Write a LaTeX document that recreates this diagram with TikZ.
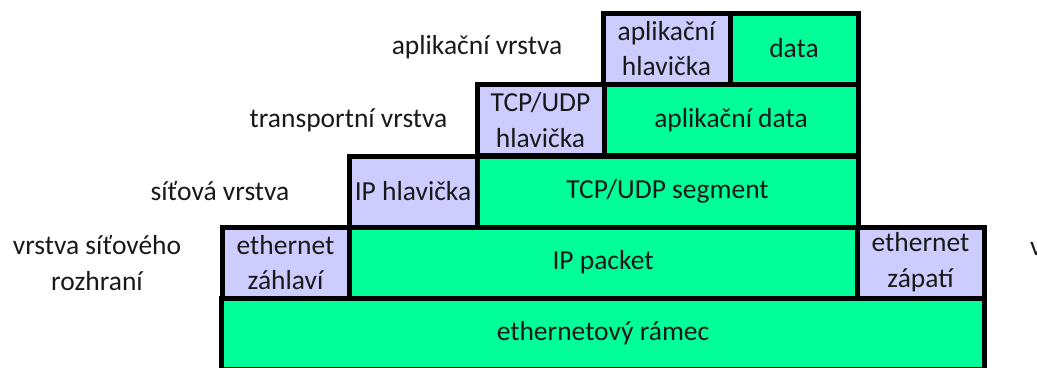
\documentclass[tikz,border=0pt]{standalone}
\usepackage{fontspec}
\setmainfont{Carlito}
\begin{document}
\begin{tikzpicture}[x=1bp,y=-1bp,
  every node/.style={font=\fontsize{27.6}{36}\selectfont, text=black!90, inner sep=0pt, outer sep=0pt, align=center},
  cell/.style={draw=black, line width=5bp, rectangle, minimum height=71bp},
  hdr/.style={cell, fill=hdrblue},
  pay/.style={cell, fill=paygreen},
  lbl/.style={}]
\definecolor{hdrblue}{HTML}{CCCCFF}
\definecolor{paygreen}{HTML}{00FF99}
\useasboundingbox (0,0) rectangle (1037,367);
\clip (0,0) rectangle (1037,367);
% bottom frame first, so upper rows overlap its border
\node[pay, minimum width=762bp] (frame) at (603,333.5) {ethernetový rámec};
% link layer
\node[hdr, minimum width=127bp] (ethh) at (285.5,262.5) {ethernet\\záhlaví};
\node[pay, minimum width=508bp] (ipp) at (603,262.5) {IP packet};
\node[hdr, minimum width=127bp] (ethf) at (920.5,262.5) {ethernet\\zápatí};
% network layer
\node[hdr, minimum width=128bp] (iph) at (413,191.5) {IP hlavička};
\node[pay, minimum width=381bp] (seg) at (667.5,191.5) {TCP/UDP segment};
% transport layer
\node[hdr, minimum width=127bp] (tcph) at (540.5,120) {TCP/UDP\\hlavička};
\node[pay, minimum width=254bp] (appd) at (731,120) {aplikační data};
% application layer
\node[hdr, minimum width=127bp] (apph) at (666.5,48.5) {aplikační\\hlavička};
\node[pay, minimum width=128bp] (data) at (794,48.5) {data};
% layer names
\node[lbl] (l1) at (477,47) {aplikační vrstva};
\node[lbl] (l2) at (348.5,120) {transportní vrstva};
\node[lbl] (l3) at (220,191) {síťová vrstva};
\node[lbl] (l4) at (97,263) {vrstva síťového\\rozhraní};
\node[lbl, anchor=west] (l5) at (1030,249) {v};
\end{tikzpicture}
\end{document}
